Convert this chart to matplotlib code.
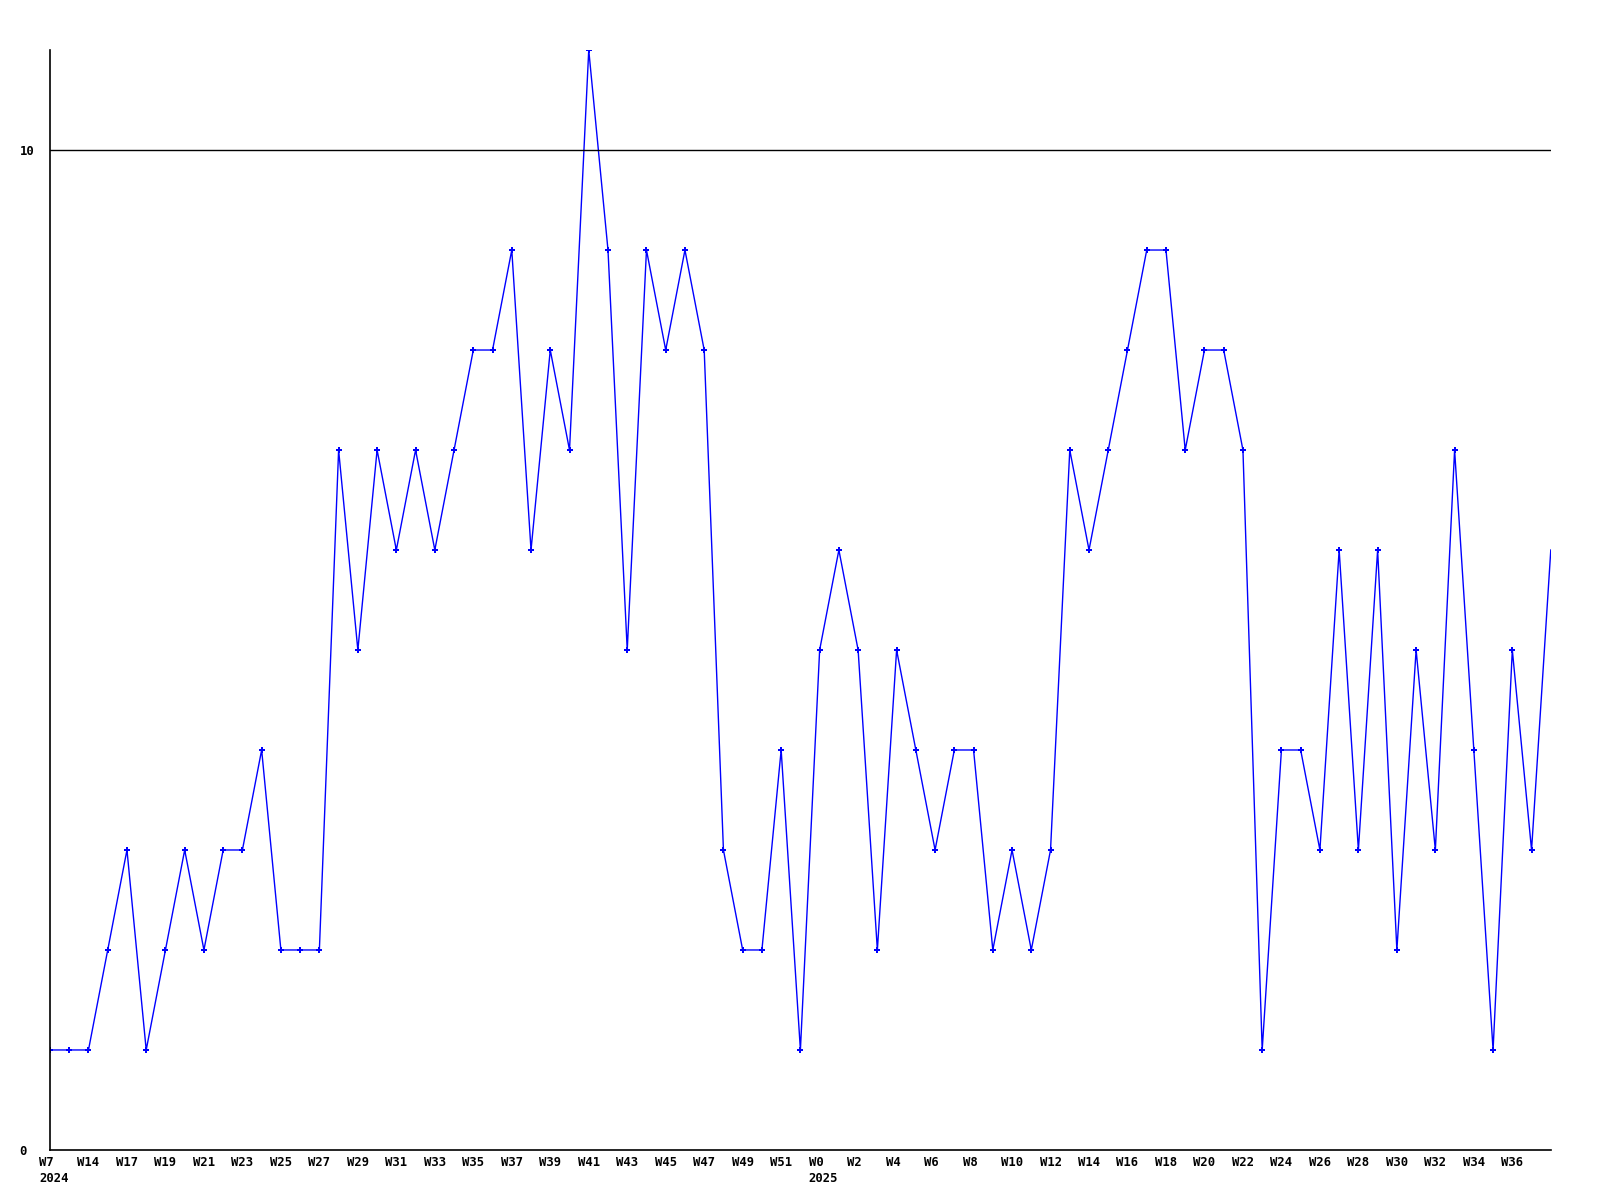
import matplotlib
matplotlib.use('Agg')
import matplotlib.pyplot as plt
import matplotlib.transforms as mtransforms

# weekly values, one per point
values = [1, 1, 1, 2, 3, 1, 2, 3, 2, 3,
          3, 4, 2, 2, 2, 7, 5, 7, 6, 7,
          6, 7, 8, 8, 9, 6, 8, 7, 11, 9,
          5, 9, 8, 9, 8, 3, 2, 2, 4, 1,
          5, 6, 5, 2, 5, 4, 3, 4, 4, 2,
          3, 2, 3, 7, 6, 7, 8, 9, 9, 7,
          8, 8, 7, 1, 4, 4, 3, 6, 3, 6,
          2, 5, 3, 7, 4, 1, 5, 3, 6]

# labels on every second point
week_labels = ['W7\n2024', 'W14', 'W17', 'W19', 'W21', 'W23', 'W25', 'W27', 'W29', 'W31',
               'W33', 'W35', 'W37', 'W39', 'W41', 'W43', 'W45', 'W47', 'W49', 'W51',
               'W0\n2025', 'W2', 'W4', 'W6', 'W8', 'W10', 'W12', 'W14', 'W16', 'W18',
               'W20', 'W22', 'W24', 'W26', 'W28', 'W30', 'W32', 'W34', 'W36']
y_ticks = [0, 10]

x = list(range(len(values)))
label_pos = x[::2][:len(week_labels)]

fig = plt.figure(figsize=(16, 12), dpi=100)
ax = fig.add_axes([0.03125, 0.0417, 0.938, 0.9166])

# last point sits on the right edge and has no marker in the original
ax.plot(x, values, color='#0000ff', linewidth=1.0, marker='P', markersize=4,
        markeredgewidth=0, markevery=list(range(len(values) - 1)))
ax.axhline(10, color='black', linewidth=1)

ax.set_xlim(0, len(values) - 1)
ax.set_ylim(0, 11)

for side in ['top', 'right']:
    ax.spines[side].set_visible(False)
for side in ['left', 'bottom']:
    ax.spines[side].set_linewidth(1.2)
    ax.spines[side].set_color('black')

font = dict(family='DejaVu Sans Mono', weight='bold', size=8.8)
ax.set_xticks(label_pos)
ax.set_xticklabels(week_labels, ha='left', multialignment='left', linespacing=1.35, **font)
ax.set_yticks(y_ticks)
ax.set_yticklabels([str(v) for v in y_ticks], ha='left', **font)
ax.tick_params(axis='x', length=0, pad=4)
ax.tick_params(axis='y', length=0, pad=22)

shift = mtransforms.ScaledTranslation(-11 / 100, 0, fig.dpi_scale_trans)
for lbl in ax.get_xticklabels():
    lbl.set_transform(lbl.get_transform() + shift)

fig.savefig('out.png', dpi=100)
